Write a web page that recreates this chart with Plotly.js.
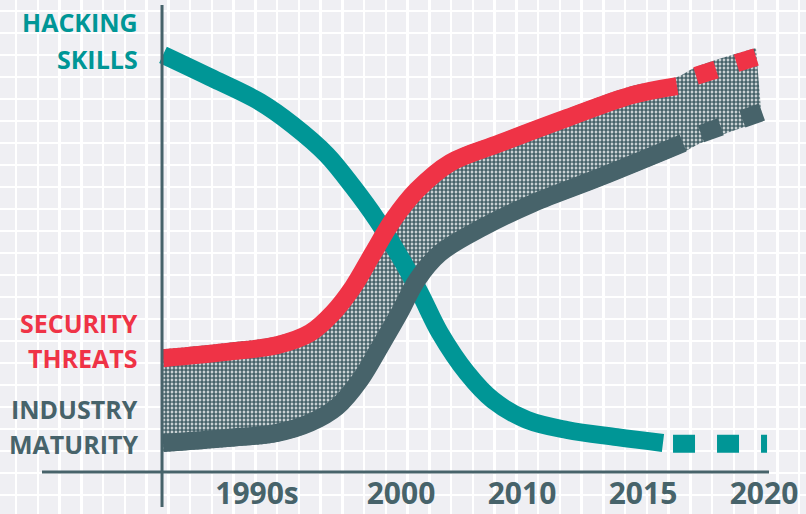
<!DOCTYPE html>
<html>
<head>
<meta charset="utf-8">
<script src="https://cdn.plot.ly/plotly-3.0.1.min.js"></script>
<style>
  html, body { margin: 0; padding: 0; background: #efeff3; }
  #chart { width: 806px; height: 514px; }
</style>
</head>
<body>
<div id="chart"></div>
<script>
// ---- Data (x: timeline position, y: relative level 0-100) ----
const tickPositions = [0.81, 2, 3, 4, 5];
const tickLabels = ['1990s', '2000', '2010', '2015', '2020'];

// Hacking skills (solid part, then projected/dashed part)
const hackingX = [0.033, 0.42, 0.835, 1.107, 1.388, 1.603, 1.802, 1.992, 2.157, 2.322, 2.545, 2.760, 3.041, 3.372, 3.785, 4.165];
const hackingY = [99.3, 94.0, 88.1, 82.6, 75.5, 67.9, 60.0, 51.2, 42.6, 33.1, 23.6, 17.1, 12.4, 10.0, 8.3, 6.9];
const hackingProjX = [4.248, 5.025];
const hackingProjY = [6.7, 6.7];

// Security threats
const threatsX = [0.033, 0.562, 0.975, 1.248, 1.438, 1.603, 1.769, 1.934, 2.132, 2.405, 2.818, 3.372, 3.917, 4.281];
const threatsY = [27.1, 28.6, 30.2, 33.1, 37.9, 44.0, 52.1, 60.0, 67.1, 73.6, 78.3, 84.3, 89.8, 91.9];
const threatsProjX = [4.438, 4.934];
const threatsProjY = [94.3, 98.8];

// Industry maturity
const maturityX = [0.033, 0.562, 0.975, 1.248, 1.471, 1.661, 1.826, 1.992, 2.132, 2.322, 2.678, 3.091, 3.645, 4.331];
const maturityY = [6.9, 8.1, 9.3, 11.7, 15.5, 21.9, 29.8, 38.1, 45.7, 52.1, 58.3, 64.0, 70.2, 78.3];
const maturityProjX = [4.479, 4.983];
const maturityProjY = [80.5, 85.7];

const seriesLabels = [
  {lines: ['HACKING', 'SKILLS'], color: '#009696', y: [22.5, 59]},
  {lines: ['SECURITY', 'THREATS'], color: '#ef3346', y: [322.5, 357.5]},
  {lines: ['INDUSTRY', 'MATURITY'], color: '#47636a', y: [409, 444]}
];

// ---- Styling ----
const W = 806, H = 514;
const TEAL = '#009696', RED = '#ef3346', SLATE = '#47636a';
const LW = 18;
const xRange = [-1.314, 5.347];
const yRange = [-10, 112.38];
const pxPerY = H / (yRange[1] - yRange[0]);
const half = (LW / 2) / pxPerY;

const traces = [];
// Band between the two curves (drawn first, beneath everything)
traces.push({
  x: maturityX.concat(maturityProjX),
  y: maturityY.concat(maturityProjY).map(v => v - half),
  mode: 'lines', line: {width: 0, shape: 'spline', smoothing: 1},
  hoverinfo: 'skip', showlegend: false
});
traces.push({
  x: threatsX.concat(threatsProjX),
  y: threatsY.concat(threatsProjY).map(v => v + half),
  mode: 'lines', line: {width: 0, shape: 'spline', smoothing: 1},
  fill: 'tonexty', fillcolor: '#ffffff',
  fillpattern: {shape: '.', fgcolor: SLATE, bgcolor: '#ffffff', size: 4, solidity: 0.72},
  hoverinfo: 'skip', showlegend: false
});

function lineTrace(x, y, color, dash) {
  return {
    x: x, y: y, mode: 'lines',
    line: {color: color, width: LW, shape: 'spline', smoothing: 1, dash: dash || 'solid'},
    hoverinfo: 'skip', showlegend: false
  };
}
traces.push(lineTrace(hackingX, hackingY, TEAL));
traces.push(lineTrace(hackingProjX, hackingProjY, TEAL, '22px,22px'));
traces.push(lineTrace(maturityX, maturityY, SLATE));
traces.push(lineTrace(maturityProjX, maturityProjY, SLATE, '21px,23px'));
traces.push(lineTrace(threatsX, threatsY, RED));
traces.push(lineTrace(threatsProjX, threatsProjY, RED, '21px,21.5px'));

const annotations = [];
seriesLabels.forEach(s => {
  s.lines.forEach((t, i) => {
    annotations.push({
      text: t, xref: 'paper', yref: 'paper',
      x: 140 / W, y: 1 - s.y[i] / H, xanchor: 'right', yanchor: 'middle',
      showarrow: false,
      font: {family: 'Open Sans', size: 25, color: s.color, weight: 700}
    });
  });
});

const axisX = 0.025; // position of the vertical axis line on the timeline scale
const layout = {
  width: W, height: H,
  margin: {l: 0, r: 0, t: 0, b: 0, pad: 0},
  paper_bgcolor: '#efeff3', plot_bgcolor: '#efeff3',
  showlegend: false,
  xaxis: {
    range: xRange, domain: [0, 1], anchor: 'free', position: 42 / H,
    tickmode: 'array', tickvals: tickPositions, ticktext: tickLabels,
    ticks: '', showline: false, zeroline: false, showgrid: false,
    ticklabelstandoff: 1,
    tickfont: {family: 'Open Sans', size: 30, color: SLATE, weight: 700},
    minor: {tickmode: 'linear', tick0: 0.2562, dtick: 21.75 / 121, showgrid: true,
            gridcolor: '#ffffff', gridwidth: 2.5, ticks: ''},
    fixedrange: true
  },
  yaxis: {
    range: yRange, domain: [0, 1],
    showticklabels: false, ticks: '', showline: false, zeroline: false,
    showgrid: true, gridcolor: '#ffffff', gridwidth: 2.5,
    tickmode: 'linear', tick0: 52.14, dtick: 22 / pxPerY,
    fixedrange: true
  },
  shapes: [
    {type: 'line', layer: 'above', xref: 'x', yref: 'paper', x0: axisX, x1: axisX,
     y0: 1 - 507 / H, y1: 1 - 5 / H, line: {color: SLATE, width: 3}},
    {type: 'line', layer: 'above', xref: 'paper', yref: 'y', x0: 42 / W, x1: 769 / W,
     y0: 0, y1: 0, line: {color: SLATE, width: 3}}
  ],
  annotations: annotations
};

Plotly.newPlot('chart', traces, layout, {displayModeBar: false, staticPlot: true});
</script>
</body>
</html>
